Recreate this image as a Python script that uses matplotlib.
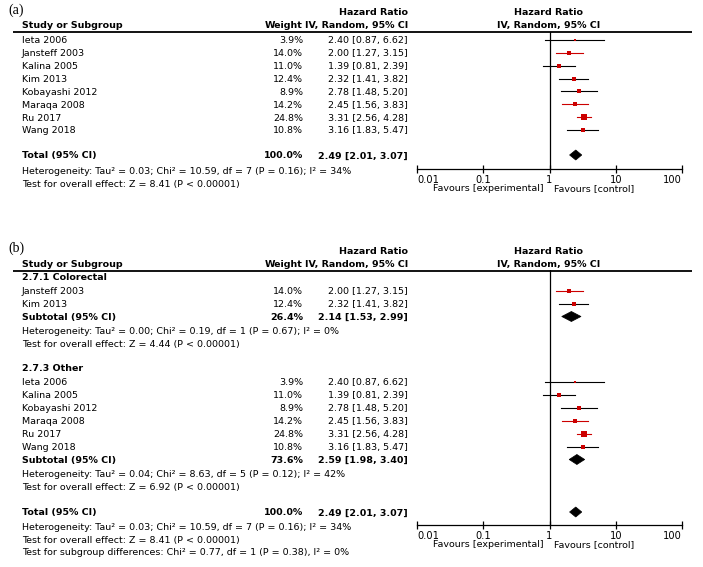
import numpy as np
import matplotlib
matplotlib.use("Agg")
import matplotlib.pyplot as plt
from matplotlib.patches import Polygon

# study level data (hazard ratios, IV random)
studies = ["Ieta 2006", "Jansteff 2003", "Kalina 2005", "Kim 2013",
           "Kobayashi 2012", "Maraqa 2008", "Ru 2017", "Wang 2018"]
weights = [3.9, 14.0, 11.0, 12.4, 8.9, 14.2, 24.8, 10.8]
hr = [2.40, 2.00, 1.39, 2.32, 2.78, 2.45, 3.31, 3.16]
ci_low = [0.87, 1.27, 0.81, 1.41, 1.48, 1.56, 2.56, 1.83]
ci_high = [6.62, 3.15, 2.39, 3.82, 5.20, 3.83, 4.28, 5.47]
subgroup = ["Other", "Colorectal", "Other", "Colorectal", "Other", "Other", "Other", "Other"]
line_red = [False, True, False, False, False, True, True, False]

# pooled results
total = (100.0, 2.49, 2.01, 3.07)
sub_colorectal = (26.4, 2.14, 1.53, 2.99)
sub_other = (73.6, 2.59, 1.98, 3.40)

het_total = ["Heterogeneity: Tau² = 0.03; Chi² = 10.59, df = 7 (P = 0.16); I² = 34%",
             "Test for overall effect: Z = 8.41 (P < 0.00001)"]
het_colorectal = ["Heterogeneity: Tau² = 0.00; Chi² = 0.19, df = 1 (P = 0.67); I² = 0%",
                  "Test for overall effect: Z = 4.44 (P < 0.00001)"]
het_other = ["Heterogeneity: Tau² = 0.04; Chi² = 8.63, df = 5 (P = 0.12); I² = 42%",
             "Test for overall effect: Z = 6.92 (P < 0.00001)"]
subgroup_diff = "Test for subgroup differences: Chi² = 0.77, df = 1 (P = 0.38), I² = 0%"

ticks = [0.01, 0.1, 1, 10, 100]
tick_labels = ["0.01", "0.1", "1", "10", "100"]

W, H = 703, 567
FS = 6.8
RED = "#cc0000"
BASE = 3.4  # baseline offset from row centre, px
X_NAME, X_WEIGHT, X_HR = 22, 303, 408
X_PLOT0, X_PLOT1 = 417, 682

plt.rcParams['font.family'] = ['DejaVu Sans']
fig = plt.figure(figsize=(W / 100, H / 100), dpi=100)
tx = fig.add_axes([0, 0, 1, 1])
tx.set_xlim(0, W)
tx.set_ylim(H, 0)
tx.axis("off")


def fmt_ci(e, l, h):
    return "%.2f [%.2f, %.2f]" % (e, l, h)


def put(x, y, s, ha="left", bold=False):
    tx.text(x, y + BASE, s, ha=ha, va="baseline", fontsize=FS, fontweight="bold" if bold else "normal")


def header(top):
    put(X_HR, top, "Hazard Ratio", "right", True)
    put(X_HR, top + 12.5, "IV, Random, 95% CI", "right", True)
    put(549, top, "Hazard Ratio", "center", True)
    put(549, top + 12.5, "IV, Random, 95% CI", "center", True)
    put(X_NAME, top + 12.5, "Study or Subgroup", "left", True)
    put(X_WEIGHT, top + 12.5, "Weight", "right", True)
    tx.plot([13, 692], [top + 20, top + 20], color="black", lw=1.3, solid_capstyle="butt")


def forest_axes(y_top, y_axis):
    ax = fig.add_axes([X_PLOT0 / W, 1 - y_axis / H, (X_PLOT1 - X_PLOT0) / W, (y_axis - y_top) / H])
    ax.set_xscale("log")
    ax.set_xlim(0.01, 100)
    ax.set_ylim(y_axis, y_top)
    ax.patch.set_alpha(0)
    for s in ["top", "left", "right"]:
        ax.spines[s].set_visible(False)
    ax.spines["bottom"].set_linewidth(0.9)
    ax.set_yticks([])
    ax.set_xticks(ticks)
    labs = ax.set_xticklabels(tick_labels, fontsize=FS + 0.3)
    # first and last labels sit inside the axis ends
    labs[0].set_ha("left")
    labs[-1].set_ha("right")
    ax.minorticks_off()
    ax.tick_params(axis="x", direction="inout", length=6, width=0.9, pad=1)
    ax.axvline(1, color="black", lw=0.9)
    put(544, y_axis + 19, "Favours [experimental]", "right")
    put(554, y_axis + 19, "Favours [control]", "left")
    return ax


def study_row(ax, i, y):
    put(X_NAME, y, studies[i])
    put(X_WEIGHT, y, "%.1f%%" % weights[i], "right")
    put(X_HR, y, fmt_ci(hr[i], ci_low[i], ci_high[i]), "right")
    ax.plot([ci_low[i], ci_high[i]], [y, y], color=RED if line_red[i] else "black", lw=0.8)
    ax.plot(hr[i], y, marker="s", color=RED, markersize=np.sqrt(weights[i]) * 0.78, mew=0)


def pooled_row(ax, label, res, y, h=5):
    w, e, l, hi_ = res
    put(X_NAME, y, label, "left", True)
    put(X_WEIGHT, y, "%.1f%%" % w, "right", True)
    put(X_HR, y, fmt_ci(e, l, hi_), "right", True)
    ax.add_patch(Polygon([(l, y), (e, y - h), (hi_, y), (e, y + h)], closed=True,
                         facecolor="black", edgecolor="black", lw=0.5))


def note(lines, y, step=12.5):
    for k, s in enumerate(lines):
        put(X_NAME, y + k * step, s)


# ---- panel (a) ----
tx.text(8, 10, "(a)", ha="left", va="center", fontsize=10, family="Liberation Serif")
header(12)
ax_a = forest_axes(32, 169)
for i in range(len(studies)):
    study_row(ax_a, i, 40 + i * 12.86)
pooled_row(ax_a, "Total (95% CI)", total, 155)
note(het_total, 171)

# ---- panel (b) ----
tx.text(8, 248, "(b)", ha="left", va="center", fontsize=10, family="Liberation Serif")
header(251)
ax_b = forest_axes(270, 525)

put(X_NAME, 277, "2.7.1 Colorectal", "left", True)
y = 291
for i in range(len(studies)):
    if subgroup[i] == "Colorectal":
        study_row(ax_b, i, y)
        y += 12.9
pooled_row(ax_b, "Subtotal (95% CI)", sub_colorectal, 316.5)
note(het_colorectal, 331)

put(X_NAME, 368, "2.7.3 Other", "left", True)
y = 382
for i in range(len(studies)):
    if subgroup[i] == "Other":
        study_row(ax_b, i, y)
        y += 12.95
pooled_row(ax_b, "Subtotal (95% CI)", sub_other, 459.5)
note(het_other, 474)

pooled_row(ax_b, "Total (95% CI)", total, 512)
note(het_total + [subgroup_diff], 527)

fig.savefig("out.png", dpi=100)
